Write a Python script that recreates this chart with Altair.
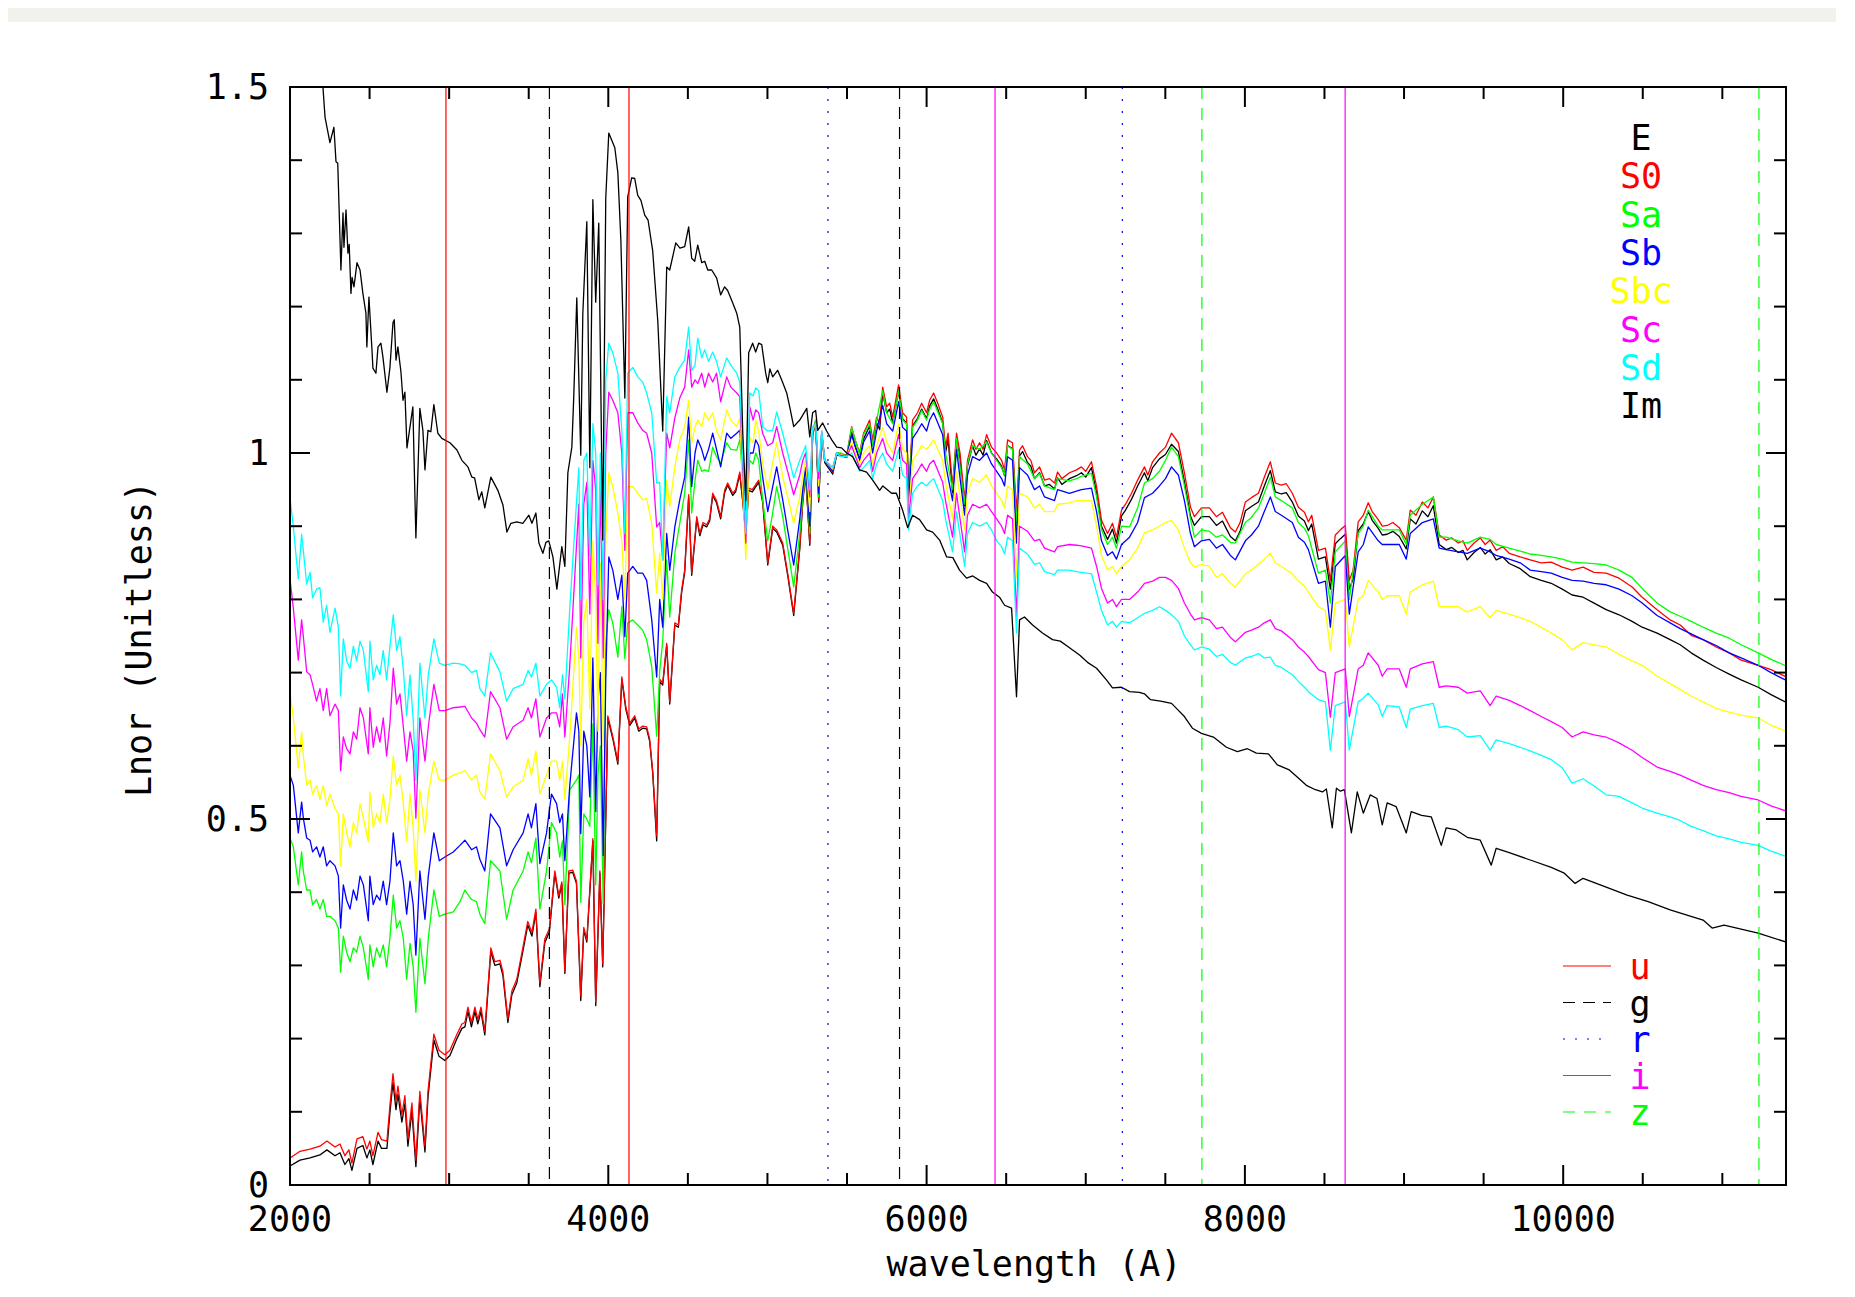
import altair as alt
import pandas as pd

FONT = "DejaVu Sans Mono"
W, H = 1496, 1098

SERIES = ["E", "S0", "Sa", "Sb", "Sbc", "Sc", "Sd", "Im"]
SERIES_COLORS = ["#000000", "#ff0000", "#00ff00", "#0000ff", "#ffff00", "#ff00ff", "#00ffff", "#000000"]

FILTERS = ["u", "g", "r", "i", "z"]
FILTER_EDGES = [(2980, 4130), (3630, 5830), (5380, 7230), (6430, 8630), (7730, 11230)]
FILTER_COLORS = ["#ff0000", "#000000", "#0000ff", "#ff00ff", "#00ff00"]
FILTER_DASH = [None, [12, 8], [2, 10], None, [12, 9]]

X_LABELS = [2000, 4000, 6000, 8000, 10000]
X_LABEL_TEXT = ["2000", "4000", "6000", "8000", "10000"]
X_MINOR = [2500, 3000, 3500, 4500, 5000, 5500, 6500, 7000, 7500, 8500, 9000, 9500, 10500, 11000]
Y_LABELS = [0, 0.5, 1.0, 1.5]
Y_LABEL_TEXT = ["0", "0.5", "1", "1.5"]
Y_MINOR = [0.1, 0.2, 0.3, 0.4, 0.6, 0.7, 0.8, 0.9, 1.1, 1.2, 1.3, 1.4]
X_TITLE = "wavelength (A)"
Y_TITLE = "Lnor (Unitless)"

S0 = [
(2000,.037),(2063,.046),(2126,.049),(2188,.053),(2232,.060),(2283,.052),(2314,.056),(2345,.040),(2370,.048),(2389,.030),
(2421,.063),(2458,.066),(2483,.049),(2502,.060),(2521,.040),(2553,.072),(2575,.062),(2609,.060),(2628,.109),(2647,.152),
(2666,.115),(2678,.135),(2703,.096),(2722,.122),(2741,.063),(2766,.112),(2791,.034),(2816,.128),(2848,.053),(2867,.128),
(2904,.206),(2936,.184),(2973,.178),(3005,.184),(3049,.206),(3080,.220),(3099,.222),(3118,.243),(3140,.222),(3162,.243),
(3180,.226),(3200,.243),(3224,.210),(3262,.324),(3287,.305),(3319,.307),(3338,.291),(3369,.227),(3394,.265),(3425,.281),
(3463,.324),(3494,.360),(3520,.345),(3545,.377),(3570,.276),(3601,.336),(3630,.350),(3664,.429),(3689,.395),(3708,.414),
(3727,.292),(3752,.429),(3777,.430),(3800,.415),(3827,.258),(3846,.352),(3865,.335),(3903,.473),(3921,.250),(3947,.429),
(3965,.302),(3997,.641),(4028,.613),(4060,.578),(4085,.694),(4110,.653),(4135,.631),(4166,.641),(4191,.623),(4216,.627),
(4241,.626),(4260,.609),(4279,.566),(4304,.477),(4323,.691),(4342,.686),(4367,.740),(4386,.660),(4418,.768),(4440,.765),
(4461,.813),(4480,.840),(4505,.943),(4524,.836),(4556,.913),(4575,.890),(4595,.905),(4618,.902),(4637,.910),(4656,.945),
(4680,.935),(4706,.913),(4731,.949),(4750,.959),(4782,.945),(4800,.950),(4826,.974),(4845,.936),(4864,.890),(4882,.952),
(4905,.950),(4945,.963),(4970,.936),(5002,.850),(5033,.900),(5058,.895),(5096,.877),(5127,.836),(5165,.781),(5203,.872),
(5222,.936),(5240,.973),(5266,.877),(5284,1.027),(5303,1.045),(5322,.936),(5341,1.027),(5360,.990),(5410,.974),(5435,1.000),
(5460,.999),(5498,.997),(5529,1.036),(5550,1.018),(5579,1.000),(5604,1.027),(5623,1.036),(5642,1.045),(5661,1.018),(5686,1.049),
(5705,1.040),(5724,1.090),(5749,1.063),(5768,1.068),(5787,1.049),(5824,1.093),(5849,1.055),(5874,1.049),(5887,.945),(5912,1.045),
(5943,1.055),(5969,1.068),(6000,1.055),(6019,1.072),(6044,1.082),(6070,1.068),(6101,1.049),(6119,1.008),(6135,1.027),(6163,.954),
(6188,1.027),(6210,1.000),(6239,.936),(6257,.990),(6289,1.018),(6310,1.005),(6333,1.014),(6355,1.005),(6377,1.025),(6408,1.008),
(6440,1.000),(6471,.990),(6490,.977),(6509,1.018),(6540,1.014),(6565,.918),(6584,1.004),(6603,1.010),(6634,.995),(6655,.990),
(6678,.973),(6710,.981),(6741,.963),(6772,.965),(6804,.959),(6823,.974),(6850,.965),(6898,.973),(6942,.977),(6973,.981),
(7000,.975),(7036,.988),(7068,.954),(7099,.908),(7137,.890),(7168,.904),(7193,.885),(7225,.922),(7250,.930),(7288,.945),
(7326,.963),(7369,.981),(7390,.970),(7420,.988),(7463,1.000),(7501,1.008),(7539,1.027),(7582,1.014),(7620,.973),(7658,.926),
(7683,.913),(7727,.925),(7777,.925),(7821,.913),(7859,.919),(7880,.910),(7909,.898),(7940,.892),(7970,.905),(8003,.933),
(8041,.939),(8085,.945),(8122,.967),(8160,.988),(8191,.959),(8229,.956),(8260,.958),(8298,.945),(8336,.926),(8374,.919),
(8399,.906),(8420,.915),(8462,.867),(8506,.870),(8537,.826),(8568,.888),(8600,.895),(8631,.901),(8656,.826),(8680,.840),
(8712,.906),(8744,.915),(8775,.932),(8800,.920),(8838,.909),(8863,.900),(8894,.901),(8930,.905),(8970,.898),(9014,.881),
(9039,.922),(9075,.915),(9115,.933),(9150,.925),(9184,.940),(9221,.888),(9265,.881),(9300,.884),(9341,.877),(9370,.880),
(9397,.867),(9440,.877),(9479,.884),(9510,.875),(9541,.881),(9579,.867),(9620,.872),(9661,.863),(9730,.858),(9793,.854),
(9862,.850),(9925,.851),(9994,.844),(10056,.840),(10125,.844),(10194,.837),(10270,.836),(10351,.829),(10433,.817),(10496,.803),
(10590,.786),(10672,.772),(10735,.765),(10804,.751),(10879,.745),(10961,.735),(11043,.727),(11118,.717),(11225,.710),(11306,.704),
(11413,.693)]

E = [
(2000,.026),(2063,.034),(2126,.037),(2188,.041),(2232,.048),(2283,.040),(2314,.044),(2345,.028),(2370,.036),(2389,.020),
(2421,.050),(2458,.054),(2483,.037),(2502,.048),(2521,.028),(2553,.060),(2575,.050),(2609,.050),(2628,.099),(2647,.140),
(2666,.103),(2678,.124),(2703,.086),(2722,.111),(2741,.053),(2766,.101),(2791,.025),(2816,.119),(2848,.045),(2867,.120),
(2904,.198),(2936,.176),(2973,.170),(3005,.177),(3049,.200),(3080,.214),(3099,.216),(3118,.237),(3140,.216),(3162,.237),
(3180,.220),(3200,.237),(3224,.205),(3262,.319),(3287,.300),(3319,.302),(3338,.286),(3369,.222),(3394,.260),(3425,.276),
(3463,.319),(3494,.355),(3520,.340),(3545,.372),(3570,.271),(3601,.331),(3630,.346),(3664,.426),(3689,.392),(3708,.411),
(3727,.289),(3752,.426),(3777,.427),(3800,.412),(3827,.252),(3846,.349),(3865,.332),(3903,.470),(3921,.245),(3947,.426),
(3965,.298),(3997,.638),(4028,.610),(4060,.575),(4085,.691),(4110,.650),(4135,.628),(4166,.638),(4191,.620),(4216,.624),
(4241,.623),(4260,.606),(4279,.563),(4304,.470),(4323,.688),(4342,.683),(4367,.737),(4386,.657),(4418,.765),(4440,.762),
(4461,.810),(4480,.837),(4505,.940),(4524,.833),(4556,.910),(4575,.887),(4595,.902),(4618,.899),(4637,.907),(4656,.942),
(4680,.932),(4706,.910),(4731,.946),(4750,.956),(4782,.942),(4800,.947),(4826,.971),(4845,.933),(4864,.887),(4882,.949),
(4905,.947),(4945,.960),(4970,.933),(5002,.847),(5033,.897),(5058,.892),(5096,.874),(5127,.833),(5165,.778),(5203,.869),
(5222,.933),(5240,.970),(5266,.874),(5284,1.024),(5303,1.042),(5322,.933),(5341,1.024),(5360,.987),(5410,.971),(5435,.997),
(5460,.996),(5498,.994),(5529,1.028),(5550,1.010),(5579,.992),(5604,1.019),(5623,1.028),(5642,1.037),(5661,1.010),(5686,1.041),
(5705,1.032),(5724,1.082),(5749,1.055),(5768,1.060),(5787,1.041),(5824,1.085),(5849,1.047),(5874,1.041),(5887,.937),(5912,1.037),
(5943,1.047),(5969,1.060),(6000,1.047),(6019,1.064),(6044,1.074),(6070,1.060),(6101,1.041),(6119,1.000),(6135,1.019),(6163,.946),
(6188,1.019),(6210,.992),(6239,.928),(6257,.982),(6289,1.010),(6310,.997),(6333,1.006),(6355,.997),(6377,1.017),(6408,1.000),
(6440,.992),(6471,.982),(6490,.969),(6509,1.010),(6540,1.006),(6565,.905),(6584,.996),(6603,1.002),(6634,.987),(6655,.982),
(6678,.965),(6710,.973),(6741,.955),(6772,.957),(6804,.951),(6823,.966),(6850,.957),(6898,.965),(6942,.969),(6973,.973),
(7000,.967),(7036,.980),(7068,.946),(7099,.900),(7137,.882),(7168,.896),(7193,.877),(7225,.914),(7250,.922),(7288,.937),
(7326,.955),(7369,.973),(7390,.962),(7420,.980),(7463,.992),(7501,.998),(7539,1.012),(7582,1.002),(7620,.961),(7658,.914),
(7683,.901),(7727,.913),(7777,.913),(7821,.901),(7859,.907),(7880,.898),(7909,.886),(7940,.880),(7970,.893),(8003,.921),
(8041,.927),(8085,.933),(8122,.955),(8160,.976),(8191,.947),(8229,.944),(8260,.946),(8298,.933),(8336,.914),(8374,.907),
(8399,.894),(8420,.903),(8462,.855),(8506,.858),(8537,.814),(8568,.876),(8600,.883),(8631,.889),(8656,.814),(8680,.828),
(8712,.894),(8744,.903),(8775,.920),(8800,.908),(8838,.897),(8863,.888),(8894,.889),(8930,.893),(8970,.886),(9014,.869),
(9039,.910),(9075,.903),(9115,.921),(9150,.913),(9184,.928),(9221,.875),(9265,.868),(9300,.871),(9341,.864),(9370,.867),
(9397,.854),(9440,.864),(9479,.871),(9510,.862),(9541,.868),(9579,.854),(9620,.858),(9661,.849),(9730,.842),(9793,.831),
(9862,.826),(9925,.822),(9994,.814),(10056,.806),(10125,.803),(10194,.795),(10270,.786),(10351,.779),(10433,.770),(10496,.762),
(10590,.754),(10672,.745),(10735,.738),(10804,.727),(10879,.717),(10961,.707),(11043,.698),(11118,.690),(11225,.680),(11306,.670),
(11413,.658)]

IM = [
(2000,1.75),(2150,1.58),(2207,1.50),(2220,1.459),(2251,1.424),(2276,1.445),(2289,1.398),(2300,1.396),(2320,1.250),(2333,1.328),
(2339,1.281),(2352,1.332),(2364,1.273),(2372,1.285),(2383,1.218),(2390,1.240),(2402,1.227),(2421,1.260),(2440,1.250),(2458,1.218),
(2477,1.191),(2483,1.145),(2496,1.213),(2515,1.141),(2521,1.116),(2540,1.109),(2553,1.145),(2571,1.150),(2584,1.131),(2609,1.083),
(2628,1.117),(2647,1.178),(2655,1.182),(2666,1.127),(2678,1.145),(2697,1.111),(2710,1.072),(2722,1.083),(2735,1.007),(2772,1.063),
(2791,.884),(2816,1.061),(2835,1.031),(2848,.977),(2867,1.031),(2885,1.029),(2904,1.066),(2929,1.027),(2954,1.020),(3005,1.014),
(3049,1.004),(3080,.990),(3118,.981),(3143,.967),(3160,.966),(3187,.936),(3205,.947),(3224,.925),(3262,.967),(3306,.949),
(3338,.929),(3363,.892),(3388,.904),(3425,.906),(3463,.904),(3501,.915),(3520,.904),(3545,.918),(3564,.877),(3589,.863),
(3608,.878),(3626,.880),(3652,.858),(3677,.814),(3708,.872),(3727,.845),(3746,.973),(3771,1.008),(3783,1.077),(3802,1.212),
(3827,.997),(3840,1.191),(3865,1.316),(3884,.980),(3903,1.346),(3921,1.206),(3940,1.314),(3965,.881),(3984,1.348),(4003,1.437),
(4041,1.417),(4060,1.383),(4079,1.291),(4104,1.075),(4122,1.350),(4147,1.376),(4166,1.375),(4185,1.352),(4205,1.345),(4229,1.325),
(4250,1.318),(4279,1.276),(4311,1.180),(4342,1.030),(4367,1.254),(4386,1.250),(4424,1.287),(4450,1.280),(4480,1.282),(4505,1.309),
(4524,1.266),(4543,1.262),(4562,1.284),(4587,1.260),(4606,1.262),(4625,1.250),(4650,1.250),(4681,1.239),(4706,1.216),(4731,1.227),
(4750,1.222),(4782,1.205),(4807,1.191),(4826,1.172),(4845,1.027),(4864,.935),(4882,1.137),(4907,1.150),(4926,1.138),(4945,1.150),
(4964,1.148),(4989,1.109),(5002,1.096),(5015,1.115),(5033,1.104),(5064,1.113),(5089,1.100),(5121,1.082),(5140,1.063),(5165,1.036),
(5203,1.045),(5247,1.061),(5266,1.022),(5284,1.055),(5303,1.058),(5316,1.031),(5347,1.041),(5372,1.030),(5404,1.018),(5435,1.008),
(5466,1.007),(5498,1.000),(5535,.995),(5579,.977),(5623,.974),(5661,.963),(5705,.949),(5725,.955),(5780,.945),(5810,.945),
(5849,.922),(5881,.898),(5912,.915),(5956,.909),(6000,.895),(6038,.892),(6082,.881),(6126,.858),(6165,.857),(6207,.840),
(6251,.829),(6290,.832),(6333,.826),(6377,.822),(6414,.810),(6458,.803),(6490,.792),(6534,.788),(6565,.667),(6584,.772),
(6615,.776),(6666,.765),(6728,.754),(6791,.745),(6840,.743),(6898,.734),(6961,.724),(7011,.714),(7068,.706),(7130,.690),
(7168,.679),(7225,.680),(7275,.674),(7338,.673),(7369,.671),(7407,.663),(7470,.661),(7539,.658),(7620,.640),(7670,.624),
(7727,.617),(7802,.612),(7884,.598),(7953,.592),(8016,.596),(8072,.590),(8148,.589),(8204,.574),(8279,.567),(8336,.556),
(8386,.546),(8443,.540),(8487,.537),(8512,.541),(8549,.488),(8575,.542),(8600,.538),(8625,.540),(8669,.481),(8706,.537),
(8744,.508),(8788,.533),(8830,.528),(8863,.492),(8894,.522),(8950,.517),(9014,.481),(9045,.510),(9110,.505),(9171,.503),
(9234,.464),(9265,.488),(9328,.485),(9397,.475),(9479,.471),(9548,.437),(9579,.460),(9661,.454),(9793,.444),(9925,.434),
(10007,.426),(10075,.412),(10125,.419),(10270,.407),(10402,.396),(10534,.387),(10672,.376),(10879,.362),(10936,.351),(11011,.355),
(11225,.344),(11413,.331)]

# shared wavelength grid for Sa, Sb, Sbc, Sc, Sd
WL_MID = [
 2000, 2021, 2052, 2073, 2084, 2105, 2126, 2142, 2167, 2188,
 2209, 2230, 2251, 2283, 2304, 2318, 2335, 2356, 2377, 2398,
 2419, 2440, 2461, 2492, 2502, 2523, 2544, 2565, 2586, 2607,
 2628, 2649, 2670, 2691, 2712, 2733, 2754, 2774, 2791, 2816,
 2848, 2869, 2904, 2938, 2973, 3026, 3068, 3099, 3141, 3172,
 3193, 3224, 3260, 3319, 3361, 3402, 3465, 3496, 3517, 3545,
 3570, 3612, 3643, 3675, 3695, 3712, 3727, 3758, 3800,
 3815, 3827, 3846, 3865, 3884, 3903, 3921, 3935, 3950, 3968, 3984,
 4003, 4028, 4060, 4085, 4104, 4122, 4154, 4185, 4216, 4241,
 4273, 4304, 4323, 4342, 4367, 4386, 4418, 4449, 4480, 4505,
 4524, 4545, 4562, 4587, 4606, 4630, 4656, 4680, 4706, 4744,
 4770, 4807, 4826, 4864, 4889, 4910, 4926, 4945, 4970,
 5002, 5033, 5058, 5096, 5127, 5165, 5203, 5222, 5240, 5266,
 5284, 5303, 5322, 5341, 5360, 5410, 5435, 5460, 5498,
 5529, 5579, 5604, 5642, 5661, 5686, 5724, 5749, 5787, 5824,
 5849, 5874, 5887, 5912, 5943, 5969, 6000, 6019, 6044, 6101,
 6119, 6163, 6188, 6239, 6257, 6289, 6333, 6377, 6408, 6440,
 6471, 6490, 6509, 6540, 6565, 6584, 6634, 6678, 6710, 6741,
 6804, 6823, 6898, 6942, 6973, 7036, 7068, 7099, 7137, 7168,
 7193, 7225, 7275, 7326, 7369, 7420, 7463, 7501, 7539, 7582,
 7620, 7658, 7683, 7727, 7777, 7821, 7859, 7909, 7940, 8003,
 8041, 8085, 8122, 8160, 8191, 8229, 8298, 8336, 8374, 8399,
 8462, 8506, 8537, 8568, 8631, 8656, 8712, 8744, 8775, 8838,
 8863, 8894, 8970, 9014, 9039, 9115, 9184, 9221, 9265, 9341,
 9397, 9479, 9541, 9579, 9661, 9730, 9793, 9862, 9925, 9994,
 10056, 10125, 10194, 10270, 10351, 10433, 10496, 10590, 10672, 10735,
 10804, 10879, 10961, 11043, 11118, 11225, 11306, 11413]

SA = [
 .474, .462, .410, .455, .428, .403, .403, .383, .390, .377,
 .390, .367, .367, .361, .351, .291, .340, .318, .305, .324,
 .318, .340, .324, .281, .328, .298, .324, .311, .328, .298,
 .338, .396, .351, .361, .337, .281, .330, .298, .236, .337,
 .275, .337, .403, .367, .370, .373, .387, .403, .390, .387,
 .370, .357, .443, .429, .363, .403, .429, .455, .440, .474,
 .377, .429, .495, .481, .448, .470, .383, .540, .553,
 .56, .386, .507, .50, .49, .63, .41, .56, .60, .384, .74,
 .786, .768, .721, .79, .719, .768, .772, .765, .758, .745,
 .708, .613, .702, .743, .854, .776, .863, .904, .945, 1.018,
 .918, .963, .99, .975, .977, .975, 1.008, .995, .986, 1.014,
 1.005, 1.004, 1.018, .909, .99, .985, 1.0, .99, .936,
 .88, .918, .954, .913, .87, .817, .89, .94, .975, .89,
 1.03, 1.045, .94, 1.027, .99, .975, 1.0, 1.0, .995,
 1.035, .998, 1.025, 1.04, 1.01, 1.045, 1.085, 1.055, 1.04, 1.085,
 1.045, 1.04, .94, 1.035, 1.045, 1.058, 1.045, 1.06, 1.07, 1.04,
 1.0, .95, 1.02, .93, .985, 1.01, 1.005, 1.015, 1.0, .99,
 .98, .97, 1.01, 1.005, .90, .995, .985, .965, .972, .955,
 .95, .965, .962, .965, .968, .972, .94, .895, .875, .885,
 .87, .90, .899, .925, .959, .965, .975, .99, 1.008, .995,
 .955, .91, .885, .895, .893, .885, .888, .878, .877, .905,
 .912, .925, .945, .967, .94, .935, .925, .905, .897, .887,
 .836, .84, .795, .865, .88, .80, .89, .90, .922, .90,
 .895, .895, .895, .875, .915, .93, .94, .885, .885, .88,
 .877, .885, .882, .875, .87, .866, .862, .86, .858, .855,
 .851, .85, .849, .847, .84, .83, .815, .795, .783, .777,
 .77, .762, .754, .747, .738, .727, .718, .708]

SB = [
 .560, .546, .481, .523, .501, .474, .471, .455, .462, .448,
 .462, .436, .443, .436, .422, .351, .410, .389, .377, .403,
 .389, .422, .410, .361, .422, .383, .396, .389, .415, .383,
 .415, .481, .436, .443, .415, .370, .415, .383, .314, .429,
 .363, .422, .481, .443, .448, .455, .464, .471, .458, .462,
 .445, .429, .507, .488, .436, .458, .481, .507, .488, .521,
 .439, .481, .534, .521, .495, .507, .443, .546, .645,
 .62, .48, .62, .60, .53, .72, .51, .66, .70, .45, .69,
 .858, .84, .80, .833, .749, .836, .845, .836, .836, .826,
 .772, .694, .80, .762, .89, .84, .899, .936, .967, 1.049,
 .954, 1.0, 1.018, 1.005, .99, 1.005, 1.027, 1.005, .981, 1.027,
 1.02, 1.027, 1.031, .922, 1.0, 1.0, 1.018, 1.01, .967,
 .92, .954, .981, .936, .895, .847, .91, .95, .98, .90,
 1.03, 1.04, .945, 1.027, .99, .975, 1.0, .998, .995,
 1.025, .99, 1.015, 1.03, 1.0, 1.03, 1.065, 1.04, 1.03, 1.07,
 1.035, 1.03, .935, 1.02, 1.03, 1.04, 1.03, 1.045, 1.055, 1.025,
 .985, .935, 1.005, .915, .97, .995, .99, 1.0, .985, .975,
 .965, .955, .995, .99, .877, .98, .97, .95, .955, .94,
 .935, .95, .945, .948, .95, .952, .92, .88, .86, .865,
 .855, .875, .885, .905, .939, .945, .955, .965, .981, .97,
 .935, .89, .872, .88, .882, .87, .875, .86, .854, .88,
 .888, .90, .92, .94, .92, .915, .905, .885, .878, .868,
 .822, .825, .762, .845, .86, .78, .865, .875, .899, .88,
 .875, .875, .875, .855, .89, .905, .91, .87, .868, .865,
 .863, .87, .865, .86, .855, .85, .84, .838, .836, .83,
 .826, .825, .822, .82, .814, .805, .795, .778, .768, .76,
 .753, .745, .737, .727, .72, .71, .70, .688]

SBC = [
 .674, .638, .570, .619, .586, .546, .553, .534, .546, .527,
 .546, .518, .534, .514, .507, .436, .507, .481, .462, .495,
 .481, .521, .501, .469, .537, .488, .507, .495, .534, .495,
 .527, .586, .546, .560, .521, .469, .534, .488, .415, .540,
 .481, .534, .579, .553, .553, .560, .563, .566, .553, .560,
 .537, .527, .589, .566, .530, .544, .553, .582, .560, .593,
 .534, .560, .579, .579, .553, .579, .527, .612, .762,
 .72, .60, .77, .80, .65, .88, .80, .62, .85, .60, .88,
 .973, .954, .918, .88, .80, .954, .954, .945, .936, .938,
 .904, .809, .863, .80, .963, .927, .981, 1.018, 1.036, 1.072,
 1.014, 1.036, 1.045, 1.036, 1.055, 1.045, 1.055, 1.03, 1.018, 1.059,
 1.045, 1.036, 1.048, .854, 1.022, 1.014, 1.045, 1.03, .986,
 .95, .986, 1.014, .967, .94, .904, .94, .97, .99, .92,
 1.03, 1.04, .955, 1.027, .99, .978, 1.0, .998, .995,
 1.015, .985, 1.0, 1.01, .985, 1.01, 1.035, 1.015, 1.0, 1.04,
 1.005, 1.0, .915, .99, 1.0, 1.01, 1.005, 1.01, 1.018, .99,
 .96, .91, .975, .895, .945, .965, .96, .97, .955, .945,
 .935, .925, .955, .95, .83, .945, .94, .925, .93, .92,
 .92, .93, .932, .935, .935, .935, .90, .86, .84, .845,
 .835, .845, .854, .87, .891, .895, .90, .905, .908, .895,
 .87, .85, .844, .848, .845, .83, .835, .822, .817, .835,
 .84, .848, .855, .863, .85, .845, .835, .825, .818, .81,
 .79, .785, .731, .795, .80, .735, .80, .805, .826, .81,
 .80, .805, .805, .78, .81, .82, .825, .79, .79, .79,
 .783, .79, .775, .785, .78, .775, .77, .762, .754, .745,
 .731, .741, .738, .735, .725, .716, .71, .695, .685, .677,
 .668, .66, .651, .646, .642, .638, .628, .619]

SC = [
 .828, .788, .717, .772, .749, .701, .697, .684, .661, .678,
 .648, .678, .641, .657, .648, .566, .612, .596, .589, .619,
 .609, .652, .638, .589, .652, .598, .626, .605, .638, .586,
 .631, .706, .657, .671, .626, .579, .619, .593, .501, .638,
 .579, .626, .684, .648, .648, .652, .653, .654, .638, .631,
 .622, .612, .674, .652, .609, .626, .635, .652, .638, .664,
 .612, .638, .645, .645, .626, .671, .612, .710, .873,
 .93, .72, .93, .96, .78, .99, .95, .74, .96, .72, 1.0,
 1.083, 1.072, 1.055, 1.0, .867, 1.055, 1.055, 1.041, 1.031, 1.027,
 1.0, .899, .905, .854, 1.027, 1.007, 1.048, 1.075, 1.09, 1.141,
 1.09, 1.1, 1.095, 1.109, 1.09, 1.109, 1.097, 1.109, 1.07, 1.104,
 1.09, 1.082, 1.077, .877, 1.063, 1.045, 1.059, 1.055, 1.027,
 1.01, 1.014, 1.036, 1.0, .975, .943, .97, .99, 1.0, .94,
 1.035, 1.04, .965, 1.03, .99, .98, 1.0, .997, .995,
 1.01, .98, .99, 1.0, .975, 1.0, 1.02, 1.0, .99, 1.025,
 .99, .985, .91, .965, .975, .985, .975, .985, .99, .96,
 .935, .885, .945, .865, .915, .93, .925, .93, .92, .91,
 .90, .89, .915, .91, .776, .90, .893, .88, .882, .87,
 .865, .872, .875, .874, .873, .87, .845, .815, .795, .80,
 .79, .80, .80, .81, .822, .825, .83, .83, .826, .815,
 .795, .78, .772, .775, .772, .76, .762, .748, .742, .755,
 .758, .762, .768, .772, .76, .757, .745, .735, .728, .722,
 .704, .70, .639, .70, .705, .64, .705, .71, .727, .71,
 .695, .705, .705, .68, .705, .712, .715, .68, .682, .68,
 .672, .675, .655, .668, .662, .655, .648, .64, .633, .625,
 .612, .619, .615, .612, .604, .594, .584, .571, .565, .56,
 .553, .546, .54, .536, .531, .526, .518, .51]

SD = [
 .939, .899, .828, .889, .866, .821, .837, .802, .814, .816,
 .769, .792, .755, .788, .762, .668, .746, .716, .706, .736,
 .716, .743, .730, .674, .743, .690, .710, .697, .730, .690,
 .736, .779, .730, .749, .704, .641, .697, .636, .553, .713,
 .638, .697, .746, .713, .710, .713, .712, .710, .700, .703,
 .678, .668, .727, .701, .661, .678, .684, .703, .694, .713,
 .668, .684, .690, .680, .652, .697, .664, .788, .932,
 .98, .80, .99, 1.00, .86, 1.04, 1.00, .82, 1.0, .80, 1.10,
 1.15, 1.137, 1.109, 1.03, .89, 1.109, 1.117, 1.104, 1.097, 1.082,
 1.055, .959, .96, .854, 1.077, 1.055, 1.104, 1.117, 1.127, 1.172,
 1.113, 1.12, 1.157, 1.13, 1.141, 1.125, 1.138, 1.125, 1.104, 1.13,
 1.12, 1.109, 1.097, .89, 1.082, 1.078, 1.089, 1.085, 1.036,
 1.03, 1.031, 1.056, 1.027, 1.0, .966, .99, 1.0, 1.01, .95,
 1.035, 1.04, .975, 1.03, .99, .98, 1.0, .995, .995,
 1.0, .975, .98, .99, .965, .985, 1.0, .985, .975, 1.005,
 .97, .965, .895, .945, .955, .96, .955, .96, .965, .935,
 .91, .865, .92, .845, .89, .905, .90, .905, .895, .88,
 .872, .862, .885, .88, .754, .87, .862, .848, .85, .838,
 .834, .84, .84, .838, .837, .835, .81, .785, .765, .77,
 .762, .77, .768, .775, .781, .785, .79, .785, .779, .77,
 .75, .738, .731, .735, .732, .722, .725, .714, .71, .72,
 .722, .726, .72, .721, .71, .707, .697, .688, .68, .674,
 .663, .66, .594, .655, .66, .594, .66, .665, .672, .656,
 .64, .655, .653, .625, .65, .655, .658, .625, .627, .622,
 .612, .614, .594, .608, .603, .598, .593, .587, .581, .57,
 .549, .555, .545, .533, .531, .522, .515, .508, .503, .498,
 .49, .484, .477, .473, .468, .464, .456, .448]

for nm, vals in [("Sa", SA), ("Sb", SB), ("Sbc", SBC), ("Sc", SC), ("Sd", SD)]:
    if len(vals) != len(WL_MID):
        raise ValueError(f"{nm}: {len(vals)} values vs {len(WL_MID)} wavelengths")

series_data = {
    "E": pd.DataFrame(E, columns=["wl", "v"]),
    "S0": pd.DataFrame(S0, columns=["wl", "v"]),
    "Sa": pd.DataFrame({"wl": WL_MID, "v": SA}),
    "Sb": pd.DataFrame({"wl": WL_MID, "v": SB}),
    "Sbc": pd.DataFrame({"wl": WL_MID, "v": SBC}),
    "Sc": pd.DataFrame({"wl": WL_MID, "v": SC}),
    "Sd": pd.DataFrame({"wl": WL_MID, "v": SD}),
    "Im": pd.DataFrame(IM, columns=["wl", "v"]),
}

xs = alt.Scale(domain=[2000, 11400], nice=False, zero=False)
ys = alt.Scale(domain=[0, 1.5], nice=False, zero=False)
one = pd.DataFrame({"k": [0]})

layers = []
# beige strip at the top of the page
layers.append(alt.Chart(one).mark_rect(color="#f2f1eb").encode(
    x=alt.value(-282), x2=alt.value(W + 60), y=alt.value(-79), y2=alt.value(-65)))

for name, col in zip(SERIES, SERIES_COLORS):
    layers.append(alt.Chart(series_data[name]).mark_line(
        color=col, strokeWidth=1.3, clip=True, strokeJoin="round").encode(
        x=alt.X("wl:Q", scale=xs, axis=None),
        y=alt.Y("v:Q", scale=ys, axis=None)))

# filter edge lines
for f, edges, col, dash in zip(FILTERS, FILTER_EDGES, FILTER_COLORS, FILTER_DASH):
    kw = dict(color=col, strokeWidth=1.2)
    if dash:
        kw["strokeDash"] = dash
    layers.append(alt.Chart(pd.DataFrame({"wl": list(edges)})).mark_rule(**kw).encode(
        x=alt.X("wl:Q", scale=xs, axis=None)))

# galaxy type legend
for i, (name, col) in enumerate(zip(SERIES, SERIES_COLORS)):
    layers.append(alt.Chart(one).mark_text(text=name, color=col, font=FONT, fontSize=35,
                                           align="center", baseline="middle").encode(
        x=alt.value(1351), y=alt.value(52 + 38.3 * i)))

# filter legend
for i, (f, col, dash) in enumerate(zip(FILTERS, FILTER_COLORS, FILTER_DASH)):
    yy = 879 + 36.5 * i
    kw = dict(color=col, strokeWidth=1.2)
    if dash:
        kw["strokeDash"] = dash
    layers.append(alt.Chart(one).mark_rule(**kw).encode(
        x=alt.value(1273), x2=alt.value(1321), y=alt.value(yy)))
    layers.append(alt.Chart(one).mark_text(text=f, color=col, font=FONT, fontSize=35,
                                           align="center", baseline="middle").encode(
        x=alt.value(1350), y=alt.value(yy + 2)))

# inward ticks on all four sides
for vals, ln in [(X_MINOR, 12), (X_LABELS, 20)]:
    d = pd.DataFrame({"t": vals})
    layers.append(alt.Chart(d).mark_rule(color="black", strokeWidth=2).encode(
        x=alt.X("t:Q", scale=xs, axis=None), y=alt.value(H), y2=alt.value(H - ln)))
    layers.append(alt.Chart(d).mark_rule(color="black", strokeWidth=2).encode(
        x=alt.X("t:Q", scale=xs, axis=None), y=alt.value(0), y2=alt.value(ln)))
for vals, ln in [(Y_MINOR, 12), (Y_LABELS, 20)]:
    d = pd.DataFrame({"t": vals})
    layers.append(alt.Chart(d).mark_rule(color="black", strokeWidth=2).encode(
        y=alt.Y("t:Q", scale=ys, axis=None), x=alt.value(0), x2=alt.value(ln)))
    layers.append(alt.Chart(d).mark_rule(color="black", strokeWidth=2).encode(
        y=alt.Y("t:Q", scale=ys, axis=None), x=alt.value(W), x2=alt.value(W - ln)))

# tick labels (placed through the scales)
layers.append(alt.Chart(pd.DataFrame({"t": X_LABELS, "lab": X_LABEL_TEXT})).mark_text(
    font=FONT, fontSize=35, color="black", align="center", baseline="alphabetic").encode(
    x=alt.X("t:Q", scale=xs, axis=None), y=alt.value(H + 46), text="lab:N"))
layers.append(alt.Chart(pd.DataFrame({"t": Y_LABELS, "lab": Y_LABEL_TEXT})).mark_text(
    font=FONT, fontSize=35, color="black", align="right", baseline="alphabetic", dy=12).encode(
    y=alt.Y("t:Q", scale=ys, axis=None), x=alt.value(-21), text="lab:N"))

# axis titles
layers.append(alt.Chart(one).mark_text(text=X_TITLE, font=FONT, fontSize=35, color="black",
                                       align="center", baseline="alphabetic").encode(
    x=alt.value(744), y=alt.value(H + 91)))
layers.append(alt.Chart(one).mark_text(text=Y_TITLE, font=FONT, fontSize=35, color="black",
                                       align="center", baseline="alphabetic", angle=270).encode(
    x=alt.value(-139), y=alt.value(552)))

# frame
layers.append(alt.Chart(one).mark_rect(fill=None, stroke="black", strokeWidth=2).encode(
    x=alt.value(0), x2=alt.value(W), y=alt.value(0), y2=alt.value(H)))

chart = alt.layer(*layers).properties(
    width=W, height=H,
    autosize=alt.AutoSizeParams(type="none"),
    padding={"left": 282, "top": 79, "right": 50, "bottom": 110},
    background="white",
).configure_view(stroke=None)

chart.save("out.html", embed_options={"renderer": "svg", "actions": False})
